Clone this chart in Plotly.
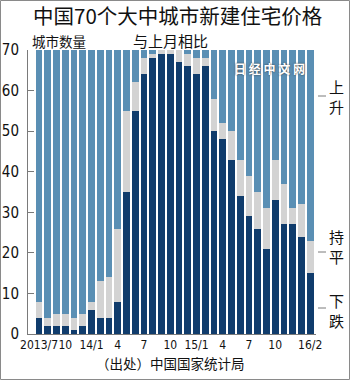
import plotly.graph_objects as go

# Monthly survey of new-home prices in 70 large and mid-sized Chinese cities
months = [
    "2013/7", "2013/8", "2013/9", "2013/10", "2013/11", "2013/12",
    "2014/1", "2014/2", "2014/3", "2014/4", "2014/5", "2014/6",
    "2014/7", "2014/8", "2014/9", "2014/10", "2014/11", "2014/12",
    "2015/1", "2015/2", "2015/3", "2015/4", "2015/5", "2015/6",
    "2015/7", "2015/8", "2015/9", "2015/10", "2015/11", "2015/12",
    "2016/1", "2016/2",
]
# number of cities with prices falling / unchanged / rising vs previous month
fall = [4, 2, 2, 2, 1, 2, 6, 4, 4, 8, 35, 55, 64, 68, 69, 69,
        67, 66, 64, 66, 50, 48, 43, 34, 29, 26, 21, 33, 27, 27, 24, 15]
flat = [4, 2, 3, 3, 3, 3, 2, 9, 10, 18, 20, 7, 4, 1, 1, 1,
        3, 3, 4, 2, 8, 4, 7, 9, 10, 9, 10, 10, 10, 4, 8, 8]
rise = [62, 66, 65, 65, 66, 65, 62, 57, 56, 44, 15, 8, 2, 1, 0, 0,
        0, 1, 2, 2, 12, 18, 20, 27, 31, 35, 39, 27, 33, 39, 38, 47]

tick_months = ["2013/7", "2013/10", "2014/1", "2014/4", "2014/7", "2014/10",
               "2015/1", "2015/4", "2015/7", "2015/10", "2016/2"]
tick_labels = ["2013/7", "10", "14/1", "4", "7", "10",
               "15/1", "4", "7", "10", "16/2"]
y_ticks = [0, 10, 20, 30, 40, 50, 60, 70]

DARK = "#103c6c"
GRAY = "#d3d3d3"
BLUE = "#5a8fb4"
AXIS = "#7a7a7a"

W, H = 350, 380
L, R, T, B = 28, 316, 50, 334

NUM = "DejaVu Sans Condensed, sans-serif"
CJK = "Noto Sans CJK SC, Noto Sans CJK JP, sans-serif"


def px(xp):
    return (xp - L) / (R - L)


def py(yp):
    return (B - yp) / (B - T)


fig = go.Figure()
fig.add_bar(x=months, y=fall, marker_color=DARK, marker_line_width=0, name="下跌")
fig.add_bar(x=months, y=flat, marker_color=GRAY, marker_line_width=0, name="持平")
fig.add_bar(x=months, y=rise, marker_color=BLUE, marker_line_width=0, name="上升")

annotations = [
    dict(text="中国70个大中城市新建住宅价格", x=px(178), y=py(14.5),
         font=dict(family=CJK, size=20.5, color="#111")),
    dict(text="城市数量", x=px(30), y=py(41), xanchor="left",
         font=dict(family=CJK, size=13.5, color="#111")),
    dict(text="与上月相比", x=px(170), y=py(40.5),
         font=dict(family=CJK, size=15, color="#111")),
    dict(text="（出处）中国国家统计局", x=px(170), y=py(363),
         font=dict(family=CJK, size=13.5, color="#111")),
    dict(text="上<br>升", x=px(336), y=py(96),
         font=dict(family=CJK, size=15, color="#111")),
    dict(text="持<br>平", x=px(336), y=py(246),
         font=dict(family=CJK, size=15, color="#111")),
    dict(text="下<br>跌", x=px(336), y=py(310),
         font=dict(family=CJK, size=15, color="#111")),
    dict(text="日 经 中 文 网", x=px(269), y=py(68),
         font=dict(family=CJK, size=12, color="white", weight="bold",
                   shadow="0px 0px 2px #333")),
]
for a in annotations:
    a.update(xref="paper", yref="paper", showarrow=False,
             xanchor=a.get("xanchor", "center"), yanchor="middle")

shapes = [
    # short leader ticks beside the series labels
    dict(type="line", x0=px(318), x1=px(326), y0=py(96), y1=py(96)),
    dict(type="line", x0=px(318), x1=px(326), y0=py(252), y1=py(252)),
    dict(type="line", x0=px(318), x1=px(326), y0=py(308), y1=py(308)),
]
for s in shapes:
    s.update(xref="paper", yref="paper", line=dict(color=AXIS, width=1))
# outer frame
shapes.append(dict(type="rect", xref="paper", yref="paper",
                   x0=px(0.5), x1=px(349.5), y0=py(0.5), y1=py(379.5),
                   line=dict(color="#8a8a8a", width=1)))

fig.update_layout(
    width=W, height=H,
    margin=dict(l=L, r=W - R, t=T, b=H - B, pad=0),
    barmode="stack", bargap=0.23,
    showlegend=False,
    paper_bgcolor="white", plot_bgcolor="white",
    annotations=annotations, shapes=shapes,
    xaxis=dict(
        type="category", categoryorder="array", categoryarray=months,
        range=[-1.26, 31.66],
        tickmode="array", tickvals=tick_months, ticktext=tick_labels,
        tickangle=0, automargin=False,
        ticks="", showline=True, linecolor=AXIS, linewidth=1,
        showgrid=False, zeroline=False,
        tickfont=dict(family=NUM, size=12, color="#111"),
    ),
    yaxis=dict(
        range=[0, 70], tickvals=y_ticks, automargin=False,
        ticks="inside", ticklen=6, tickcolor=AXIS,
        showline=True, linecolor=AXIS, linewidth=1,
        showgrid=False, zeroline=False,
        tickfont=dict(family=NUM, size=15, color="#111"),
        ticklabelstandoff=5,
    ),
)

fig.write_html("out.html")
